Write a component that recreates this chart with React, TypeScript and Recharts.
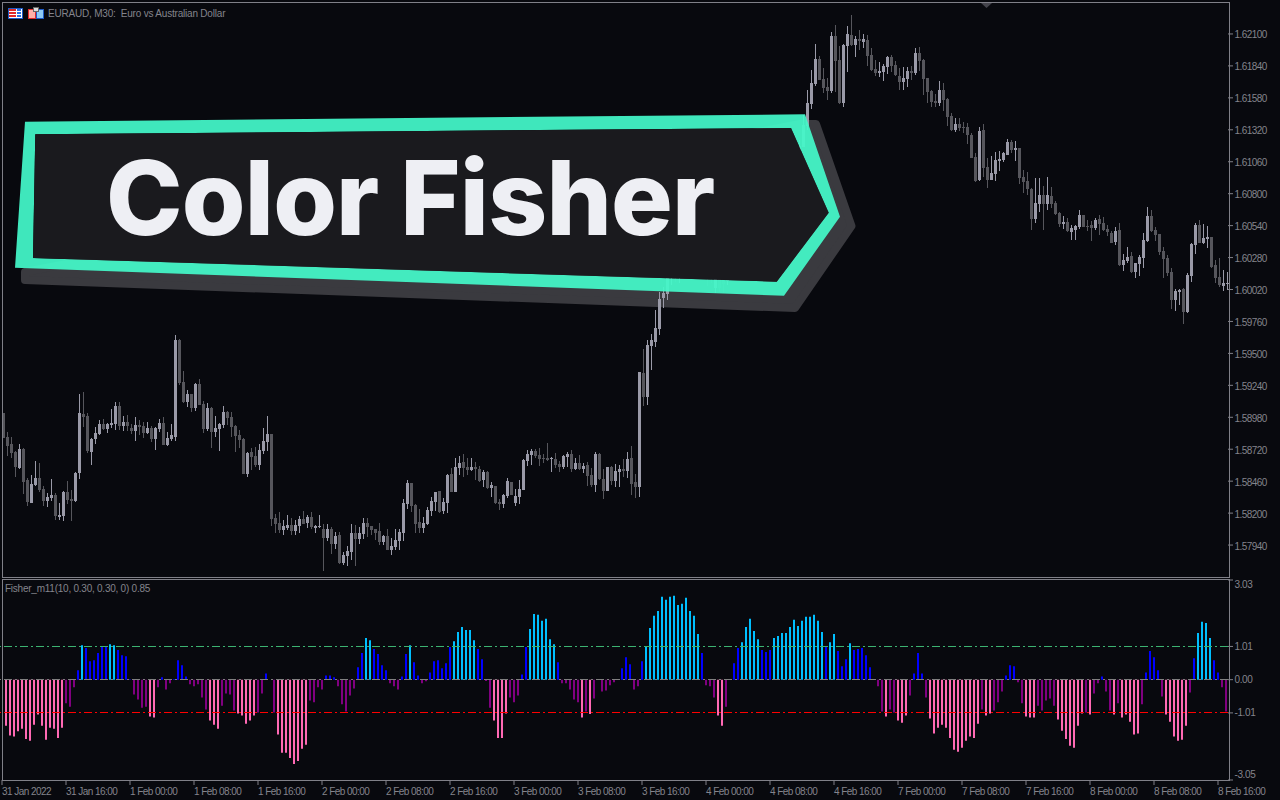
import { BarChart, Bar, Cell, XAxis, YAxis, ReferenceLine } from 'recharts';

// EURAUD M30, prices in points (1 point = 0.00001)
const highs = [
  159012,158860,158820,158706,158763,158730,158486,158510,158624,158608,
  158421,158364,158478,158364,158282,158380,158461,158388,158535,159170,
  159186,159015,158811,158901,158958,158966,158934,159048,159105,159105,
  158991,158999,158925,158982,158958,158942,158942,158909,158901,158966,
  158982,158860,158925,159650,159617,159357,159202,159170,159259,159292,
  159113,159096,159064,158991,158934,159072,159031,159023,158917,158877,
  158811,158698,158730,158738,158763,158893,158991,158844,158193,158209,
  158144,158185,158160,158144,158177,158217,158185,158209,158103,158185,
  158111,158111,158087,158046,158046,157884,157932,158111,158103,158087,
  158160,158160,158095,158071,158120,158022,158071,157997,158071,158071,
  158315,158470,158445,158274,158234,158168,158250,158331,158372,158380,
  158323,158518,158567,158649,158665,158681,158649,158649,158616,158584,
  158551,158543,158453,158421,158315,158356,158486,158453,158396,158470,
  158641,158714,158722,158722,158730,158681,158771,158657,158689,158624,
  158673,158698,158714,158649,158673,158608,158616,158567,158698,158689,
  158559,158575,158584,158600,158592,158641,158698,158746,158518,159349,
  159536,159609,159658,159853,160000,160041,160179,160244,160301,160342,
  160358,160423,160440,160391,160342,160293,160244,160212,160195,160179,
  160163,160195,160301,160383,160464,160521,160586,160554,160537,160537,
  160619,160700,160749,160847,160896,160863,160944,161026,161107,161237,
  161441,161644,161807,162019,161921,161823,161742,162117,162173,162003,
  162019,162165,162255,162084,162133,162100,162092,161986,161889,161872,
  161856,161921,161929,161880,161823,161832,161832,161840,161986,161994,
  161897,161742,161644,161612,161718,161701,161579,161457,161416,161416,
  161384,161376,161294,161132,161343,161368,161091,161107,161140,161148,
  161140,161246,161237,161229,161172,160993,160977,160846,160928,160928,
  160863,160936,160855,160741,160651,160619,160602,160545,160545,160667,
  160627,160586,160578,160602,160627,160610,160545,160496,160529,160562,
  160309,160366,160326,160236,160301,160480,160692,160667,160529,160472,
  160366,160301,160195,160024,160024,160032,160155,160399,160562,160586,
  160553,160537,160448,160260,160277,160179,160163,
];

const lows = [
  158809,158665,158649,158494,158559,158356,158258,158282,158421,158372,
  158258,158250,158299,158144,158144,158136,158274,158136,158291,158478,
  158901,158689,158592,158763,158836,158877,158852,158893,158877,158877,
  158868,158868,158844,158787,158836,158811,158844,158779,158714,158860,
  158755,158746,158787,158787,159243,159096,159064,159023,159031,159080,
  158852,158868,158730,158820,158706,158893,158917,158820,158698,158730,
  158518,158494,158551,158575,158551,158681,158706,158095,158038,158038,
  158022,158063,158022,158022,158038,158111,158079,158071,158038,158079,
  157729,157973,157867,157908,157786,157778,157770,157818,157770,157949,
  157989,158006,158022,157981,157941,157941,157900,157859,157900,157900,
  157973,158234,158209,158038,158038,158038,158103,158177,158217,158201,
  158193,158201,158372,158372,158510,158494,158510,158543,158470,158453,
  158413,158396,158331,158274,158225,158242,158323,158347,158258,158274,
  158388,158584,158592,158649,158584,158608,158624,158535,158567,158535,
  158559,158575,158535,158551,158551,158527,158421,158413,158372,158470,
  158315,158380,158429,158413,158413,158494,158486,158347,158323,158331,
  159072,159080,159365,159552,159650,159870,159935,160057,160082,160073,
  160138,160195,160212,160163,160130,160122,160049,160073,159992,160000,
  159992,160057,160098,160163,160244,160293,160358,160342,160309,160326,
  160375,160440,160521,160586,160668,160619,160684,160782,160863,160977,
  161180,161319,161490,161677,161726,161620,161563,161620,161628,161530,
  161506,161791,162003,161913,161970,161986,161840,161799,161758,161750,
  161718,161775,161791,161758,161644,161644,161669,161726,161767,161799,
  161604,161539,161506,161506,161514,161473,161351,161311,161303,161311,
  161294,161205,161091,160896,160904,160936,160847,160912,160904,160985,
  161058,161115,161132,161066,160879,160806,160790,160505,160562,160651,
  160505,160667,160684,160627,160529,160513,160488,160423,160423,160513,
  160529,160496,160415,160505,160464,160496,160456,160399,160383,160212,
  160171,160236,160155,160114,160130,160195,160407,160488,160415,160301,
  160114,160130,159862,159845,159894,159739,159829,160081,160309,160399,
  160391,160358,160195,160073,160041,160008,160016,
];

const opens = [
  159012,158820,158763,158698,158567,158722,158470,158282,158429,158486,
  158396,158299,158323,158348,158168,158177,158372,158315,158299,158527,
  159007,158991,158698,158803,158844,158925,158885,158917,158925,159072,
  158909,158942,158893,158868,158917,158909,158852,158893,158803,158885,
  158934,158755,158803,158820,159609,159267,159105,159170,159056,159251,
  159088,158885,159056,158860,158885,158917,159023,158982,158909,158836,
  158803,158518,158698,158665,158592,158706,158779,158844,158160,158120,
  158063,158079,158103,158054,158095,158152,158120,158168,158079,158087,
  158071,157997,158071,157949,158022,157794,157851,157884,158038,157989,
  158030,158120,158095,158071,158054,157965,158014,157900,157924,157973,
  158038,158274,158445,158266,158128,158079,158111,158217,158291,158380,
  158217,158282,158518,158372,158567,158616,158575,158551,158575,158559,
  158470,158535,158404,158421,158291,158274,158339,158453,158282,158331,
  158388,158624,158673,158706,158673,158649,158649,158641,158641,158600,
  158575,158657,158681,158559,158608,158559,158592,158510,158429,158681,
  158478,158380,158575,158461,158535,158559,158543,158649,158453,158413,
  159341,159145,159560,159593,159699,159951,159984,160114,160244,160212,
  160244,160293,160391,160326,160277,160244,160195,160179,160033,160130,
  160130,160090,160147,160228,160326,160391,160456,160505,160489,160407,
  160456,160537,160619,160684,160765,160814,160782,160863,160961,161042,
  161180,161351,161530,161693,161897,161734,161669,161636,162084,161889,
  161539,162003,162092,162011,162060,162035,162051,161929,161815,161783,
  161791,161832,161913,161848,161758,161710,161734,161799,161783,161946,
  161889,161742,161636,161555,161539,161644,161571,161433,161319,161368,
  161343,161343,161278,161099,160912,161319,161018,160912,160961,161066,
  161075,161115,161221,161156,161172,160936,160903,160838,160594,160716,
  160790,160716,160781,160724,160643,160553,160570,160488,160505,160529,
  160627,160537,160545,160521,160594,160562,160513,160480,160407,160505,
  160220,160252,160293,160163,160228,160277,160415,160619,160505,160472,
  160334,160277,160163,159935,160000,160024,159837,160130,160383,160545,
  160399,160431,160448,160220,160122,160049,160065,
];

const closes = [
  158809,158746,158689,158575,158722,158453,158291,158437,158486,158388,
  158299,158331,158348,158177,158185,158372,158307,158299,158527,159015,
  158982,158706,158803,158852,158925,158885,158925,158934,159072,158909,
  158942,158909,158868,158917,158901,158852,158893,158803,158893,158934,
  158755,158811,158836,159609,159259,159105,159170,159056,159251,159080,
  158885,159056,158860,158893,158925,159023,158974,158901,158828,158795,
  158518,158689,158657,158592,158714,158787,158844,158152,158111,158063,
  158095,158103,158054,158103,158152,158111,158168,158087,158095,158095,
  157997,158071,157949,158014,157794,157859,157892,158038,157989,158038,
  158120,158087,158063,158038,157965,158014,157900,157932,157981,158046,
  158282,158445,158258,158111,158079,158120,158225,158299,158372,158209,
  158291,158510,158372,158575,158608,158567,158551,158575,158559,158461,
  158535,158404,158429,158282,158274,158347,158461,158347,158339,158396,
  158632,158681,158706,158665,158641,158641,158632,158649,158592,158575,
  158665,158681,158559,158608,158559,158584,158502,158429,158681,158478,
  158380,158575,158461,158543,158559,158543,158641,158437,158413,159349,
  159145,159569,159609,159707,159943,159992,160114,160195,160179,160293,
  160326,160375,160309,160244,160195,160179,160130,160114,160163,160033,
  160065,160147,160244,160342,160423,160489,160537,160440,160391,160472,
  160554,160651,160700,160782,160847,160716,160879,160977,161058,161189,
  161359,161539,161701,161897,161726,161661,161636,162084,161880,161539,
  162011,162100,162011,162060,162043,162060,161921,161807,161783,161799,
  161840,161913,161840,161767,161710,161742,161799,161783,161946,161880,
  161734,161628,161547,161539,161644,161563,161425,161319,161368,161335,
  161335,161278,161091,160904,161311,161009,160912,160969,161075,161083,
  161132,161221,161156,161172,160928,160895,160838,160594,160724,160790,
  160716,160790,160716,160635,160553,160570,160496,160521,160537,160627,
  160529,160529,160521,160586,160553,160505,160488,160399,160496,160220,
  160260,160285,160163,160236,160285,160423,160619,160496,160464,160326,
  160269,160155,159935,160008,160016,159837,160138,160391,160545,160399,
  160439,160448,160203,160114,160057,160073,160073,
];

const fisher = [
  0,-1.40,-1.70,-1.73,-1.57,-1.49,-1.80,-1.86,-1.37,-1.06,
  -1.40,-1.83,-1.46,-1.49,-1.77,-1.46,-.72,-.82,-.23,.29,
  1.05,.96,.56,.59,.81,.99,.99,1.08,1.05,.90,
  .74,.71,.01,-.45,-.60,-.85,-.82,-1.12,-1.15,-.23,
  .07,-.30,-.11,.02,.59,.44,.10,-.14,-.20,-.14,
  -.54,-.91,-1.24,-1.37,-1.49,-.79,-.42,-.45,-.94,-1.03,
  -1.09,-1.34,-1.24,-1.09,-1.00,-.42,.19,0,-1.00,-1.67,
  -2.22,-2.22,-2.38,-2.56,-2.47,-2.10,-1.98,-.63,-.69,-.23,
  -.30,.13,.13,.07,-.20,-.75,-.97,-.48,-.27,.38,
  .81,1.27,1.20,.93,.78,.44,.29,-.11,-.20,-.30,
  .10,.78,1.05,.53,.13,-.11,-.05,.22,.56,.59,
  .35,.50,.99,1.17,1.45,1.60,1.51,1.51,1.20,.93,
  .62,-.04,-.85,-1.24,-1.77,-1.77,-1.03,-.54,-.69,-.48,
  .16,.99,1.54,2.00,1.97,1.79,1.85,1.23,1.08,.53,
  -.11,-.11,-.30,-.60,-.69,-1.15,-.97,-1.04,-.57,0,
  -.36,-.33,-.17,-.08,0,.35,.68,.47,-.30,-.20,
  .56,1.02,1.57,1.94,2.09,2.52,2.43,2.52,2.55,2.27,
  2.31,2.49,2.09,1.94,1.39,.81,-.17,-.20,-.54,-1.09,
  -1.40,-.82,0,.50,.96,1.14,1.60,1.85,1.48,1.23,
  .90,.84,.90,1.27,1.33,1.42,1.42,1.60,1.82,1.63,
  1.79,1.91,1.91,1.97,1.79,1.45,.99,1.14,1.39,.87,
  .41,.62,1.11,.90,.93,.96,.74,.38,0,-.20,
  -.97,-1.12,-.91,-1.00,-1.24,-1.31,-1.09,-.48,.19,.81,
  .19,-.54,-1.18,-1.64,-1.46,-1.37,-1.46,-1.77,-2.13,-2.19,
  -2.07,-1.86,-1.73,-1.77,-1.34,-.91,-1.09,-1.03,-.94,-.69,
  -.36,.13,.44,.41,-.08,-.72,-1.12,-1.15,-1.15,-.79,
  -.94,-.63,-.57,-.79,-1.21,-1.55,-1.80,-2.01,-2.07,-1.40,
  -1.03,-1.00,-1.06,-.42,-.11,.10,-.36,-.94,-1.06,-.72,
  -1.15,-1.06,-1.28,-1.67,-1.64,-.75,.22,.87,.68,.29,
  -.51,-1.06,-1.28,-1.73,-1.86,-1.83,-1.40,-.39,.65,1.42,
  1.76,1.72,1.27,.59,.22,-.23,-.97,
];

const priceTicks = [
  162100,161840,161580,161320,161060,160800,160540,160280,160020,
  159760,159500,159240,158980,158720,158460,158200,157940,
];
const fisherTicks = [3.03, 1.01, 0, -1.01, -3.05];
const timeLabels = [
  '31 Jan 2022','31 Jan 16:00','1 Feb 00:00','1 Feb 08:00','1 Feb 16:00',
  '2 Feb 00:00','2 Feb 08:00','2 Feb 16:00','3 Feb 00:00','3 Feb 08:00',
  '3 Feb 16:00','4 Feb 00:00','4 Feb 08:00','4 Feb 16:00','7 Feb 00:00',
  '7 Feb 08:00','7 Feb 16:00','8 Feb 00:00','8 Feb 08:00','8 Feb 16:00',
];

const LEVEL = 1.01;
const BG = '#08090e';
const AXIS = '#808088';
const LABEL = '#84848c';
const FONT = '"Liberation Sans", Arial, sans-serif';

const rows = highs.map((high, i) => ({
  i,
  high,
  low: lows[i],
  open: opens[i],
  close: closes[i],
  fisher: fisher[i],
}));
const timeTicks = timeLabels.map((_, k) => k * 16);

const fisherColor = (v: number) => {
  if (v >= LEVEL) return '#00bfff';
  if (v >= 0) return '#0000ff';
  if (v > -LEVEL) return '#800080';
  return '#ff69b4';
};

// wick + body, both scaled from the bar recharts gives for [low, high]
const Candle = (props: any) => {
  const { x, y, width, height, payload } = props;
  const { high, low, open, close } = payload;
  const ppp = height / (high - low || 1);
  const top = y + (high - Math.max(open, close)) * ppp;
  const bottom = y + (high - Math.min(open, close)) * ppp;
  const color = close >= open ? '#9a9aa8' : '#56565c';
  const cx = Math.round(x + width / 2);
  return (
    <g shapeRendering="crispEdges">
      <rect x={cx} y={y} width={1} height={Math.max(height, 1)} fill={color} />
      <rect x={cx - 1} y={top} width={3} height={Math.max(bottom - top, 1)} fill={color} />
    </g>
  );
};

const PriceTick = ({ x, y, payload }: any) => (
  <text x={x - 0.5} y={y + 4.5} fontSize={10} fontFamily={FONT} fill={LABEL} letterSpacing={-0.55}>
    {(payload.value / 100000).toFixed(5)}
  </text>
);

const FisherTick = ({ x, y, payload }: any) => {
  const v = payload.value;
  const shift = v === 3.03 ? 4 : v === -3.05 ? -6 : 0;
  return (
    <text x={x - 0.5} y={y + 3.5 + shift} fontSize={10} fontFamily={FONT} fill={LABEL} letterSpacing={-0.4}>
      {v.toFixed(2)}
    </text>
  );
};

const TimeTick = ({ x, y, payload }: any) => (
  <text x={x} y={y + 8} fontSize={10} fontFamily={FONT} fill={LABEL} letterSpacing={-0.55}>
    {timeLabels[payload.value / 16]}
  </text>
);

const dashDot = '8 3 2 3';

export default function App() {
  return (
    <div style={{ position: 'fixed', left: 0, top: 0, width: 1280, height: 800, background: BG, overflow: 'hidden' }}>
      {/* banner shadow sits under the candles */}
      <svg width={1280} height={800} style={{ position: 'absolute', left: 0, top: 0 }}>
        <polygon
          points="25,272 25,280 795,308 851.5,226 816,124 800,124"
          fill="#3a3a3f"
          stroke="#3a3a3f"
          strokeWidth={8}
          strokeLinejoin="round"
        />
      </svg>

      <div style={{ position: 'absolute', left: 0, top: 0 }}>
        <BarChart
          width={1280}
          height={578}
          data={rows}
          margin={{ top: 3, right: 0, bottom: 1, left: 0 }}
          barCategoryGap={0}
        >
          <XAxis dataKey="i" hide />
          <YAxis
            orientation="right"
            width={52}
            domain={[157680, 162352]}
            allowDataOverflow
            ticks={priceTicks}
            interval={0}
            axisLine={false}
            tick={<PriceTick />}
            tickLine={{ stroke: AXIS }}
            tickSize={5}
          />
          <Bar dataKey={(d: any) => [d.low, d.high]} barSize={3} shape={Candle} isAnimationActive={false} />
        </BarChart>
      </div>

      <div style={{ position: 'absolute', left: 0, top: 578 }}>
        <BarChart
          width={1280}
          height={222}
          data={rows}
          margin={{ top: 2, right: 0, bottom: 0, left: 0 }}
          barCategoryGap={0}
        >
          <XAxis
            dataKey="i"
            type="category"
            height={20}
            ticks={timeTicks}
            interval={0}
            axisLine={false}
            tick={<TimeTick />}
            tickLine={{ stroke: AXIS }}
            tickSize={5}
          />
          <YAxis
            orientation="right"
            width={52}
            domain={[-3.05, 3.03]}
            allowDataOverflow
            ticks={fisherTicks}
            interval={0}
            axisLine={false}
            tick={<FisherTick />}
            tickLine={{ stroke: AXIS }}
            tickSize={5}
          />
          <Bar dataKey="fisher" barSize={2} isAnimationActive={false}>
            {rows.map((r) => (
              <Cell key={r.i} fill={fisherColor(r.fisher)} />
            ))}
          </Bar>
          <ReferenceLine y={0} stroke="#808080" strokeDasharray={dashDot} shapeRendering="crispEdges" />
          <ReferenceLine y={LEVEL} stroke="#3cb371" strokeDasharray={dashDot} shapeRendering="crispEdges" />
          <ReferenceLine y={-LEVEL} stroke="#ff0000" strokeDasharray={dashDot} shapeRendering="crispEdges" />
        </BarChart>
      </div>

      {/* panel frames, caption texts, banner */}
      <svg width={1280} height={800} style={{ position: 'absolute', left: 0, top: 0 }}>
        <g fill="none" stroke={AXIS} shapeRendering="crispEdges">
          <rect x={2.5} y={2.5} width={1227} height={575} />
          <rect x={2.5} y={579.5} width={1227} height={201} />
        </g>
        <polygon points="981,3 992,3 986.5,8" fill="#44444c" />

        <g shapeRendering="crispEdges">
          <rect x={8} y={8} width={14} height={10} fill="#fff" stroke="#1e5bc6" />
          <rect x={9} y={9} width={7} height={2} fill="#e02a2a" />
          <rect x={9} y={12} width={7} height={2} fill="#e02a2a" />
          <rect x={9} y={15} width={7} height={2} fill="#e02a2a" />
          <rect x={17} y={9} width={4} height={2} fill="#2a6fe0" />
          <rect x={17} y={12} width={4} height={2} fill="#2a6fe0" />
          <rect x={17} y={15} width={4} height={2} fill="#2a6fe0" />
          <rect x={28} y={9} width={7} height={9} fill="#ffb0a8" stroke="#e02a2a" />
          <rect x={36} y={9} width={7} height={9} fill="#8ecbf5" stroke="#1e5bc6" />
          <rect x={33} y={7} width={5} height={4} fill="#ddd" stroke="#666" />
        </g>
        <text x={48} y={17} fontSize={10} fontFamily={FONT} fill={LABEL} letterSpacing={-0.2} style={{ whiteSpace: 'pre' }}>
          EURAUD, M30:  Euro vs Australian Dollar
        </text>
        <text x={5} y={592} fontSize={10} fontFamily={FONT} fill={LABEL} letterSpacing={-0.24}>
          Fisher_m11(10, 0.30, 0.30, 0) 0.85
        </text>

        <path
          fillRule="evenodd"
          fill="#44f9c9"
          fillOpacity={0.93}
          d="M25,121.7 L805,114.3 L840,216.7 L784,295.7 L15,267.7 Z M35.3,134.3 L33,258 L776.7,281.7 L828.7,212.7 L791,128 Z"
        />
        <polygon points="35.3,134.3 791,128 828.7,212.7 776.7,281.7 33,258" fill="#1a1a1e" />
        <text x={106} y={234.5} fontSize={103} fontWeight={800} letterSpacing={-0.8} fontFamily="Inter, sans-serif" fill="#eeeff4">
          Color Fisher
        </text>
      </svg>
    </div>
  );
}
